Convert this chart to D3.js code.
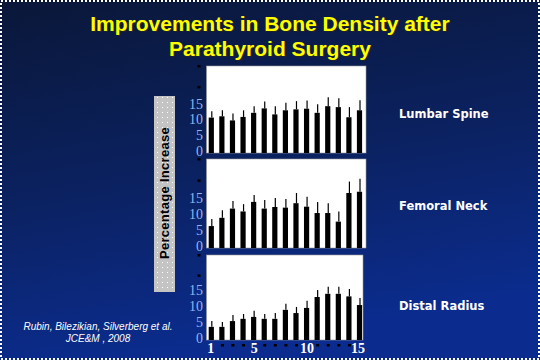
<!DOCTYPE html>
<html><head><meta charset="utf-8">
<script src="https://cdn.jsdelivr.net/npm/d3@7"></script>
<style>html,body{margin:0;padding:0;background:#0b1a48;}svg{display:block;}</style>
</head><body>
<script>
const categories = d3.range(1, 16);
const panelNames = ["Lumbar Spine", "Femoral Neck", "Distal Radius"];
const lumbarSpine = [11.2, 11.6, 10.3, 11.4, 12.7, 14.1, 12.2, 13.5, 13.8, 14.0, 12.7, 14.8, 14.5, 11.3, 13.5];
const lumbarSpineErr = [13.2, 13.5, 12.5, 13.5, 14.8, 16.3, 14.8, 15.9, 16.4, 16.6, 15.4, 17.6, 17.3, 14.5, 16.7];
const femoralNeck = [6.9, 9.5, 12.4, 11.5, 14.5, 12.4, 12.9, 12.7, 14.1, 13.0, 11.0, 11.0, 8.3, 17.3, 17.7];
const femoralNeckErr = [9.1, 11.9, 14.8, 13.8, 16.7, 15.1, 15.7, 15.4, 17.3, 16.1, 14.5, 14.1, 11.5, 20.9, 21.8];
const distalRadius = [4.1, 4.1, 5.9, 6.6, 7.2, 6.6, 6.6, 9.4, 8.4, 10.0, 13.4, 14.4, 14.4, 13.6, 10.9];
const distalRadiusErr = [5.9, 5.6, 7.8, 8.1, 9.1, 8.1, 8.4, 11.3, 10.3, 12.2, 15.6, 16.6, 16.6, 15.9, 13.1];
const yTickLabels = [0, 5, 10, 15];
const xTickLabels = [1, 5, 10, 15];
const titleLines = ["Improvements in Bone Density after", "Parathyroid Surgery"];
const yAxisTitle = "Percentage Increase";
const citation = ["Rubin, Bilezikian, Silverberg et al.", "JCE&M , 2008"];

const W = 540, H = 360;
const svg = d3.select("body").append("svg").attr("width", W).attr("height", H);
const defs = svg.append("defs");
const grad = defs.append("linearGradient").attr("id", "bg").attr("x1", 0).attr("y1", 0).attr("x2", 0.25).attr("y2", 1);
grad.append("stop").attr("offset", "0%").attr("stop-color", "#0a1738");
grad.append("stop").attr("offset", "55%").attr("stop-color", "#0b2262");
grad.append("stop").attr("offset", "100%").attr("stop-color", "#0b2c8e");
const pat = defs.append("pattern").attr("id", "dots").attr("width", 5).attr("height", 5).attr("patternUnits", "userSpaceOnUse");
pat.append("rect").attr("width", 5).attr("height", 5).attr("fill", "#c4c4c4");
pat.append("rect").attr("x", 2).attr("y", 2).attr("width", 1).attr("height", 1).attr("fill", "#ffffff");

svg.append("rect").attr("width", W).attr("height", H).attr("fill", "url(#bg)");
svg.append("rect").attr("x", 1).attr("y", 1).attr("width", W - 2).attr("height", H - 2)
  .attr("fill", "none").attr("stroke", "#ffffff").attr("stroke-width", 2).attr("stroke-dasharray", "2,2");

// Title
const title = svg.append("g").attr("font-family", "Arial, 'Liberation Sans', sans-serif").attr("font-weight", "bold")
  .attr("font-size", 21).attr("text-anchor", "middle");
titleLines.forEach((t, i) => {
  title.append("text").attr("x", 271).attr("y", 32 + i * 25).attr("fill", "#222").text(t);
  title.append("text").attr("x", 270).attr("y", 31 + i * 25).attr("fill", "#ffff00").text(t);
});

// Y axis title box
svg.append("rect").attr("x", 154).attr("y", 96).attr("width", 21).attr("height", 196).attr("fill", "url(#dots)");
svg.append("text").attr("transform", "translate(169,193) rotate(-90)").attr("text-anchor", "middle")
  .attr("font-family", "Arial, 'Liberation Sans', sans-serif").attr("font-weight", "bold").attr("font-size", 13)
  .attr("letter-spacing", 0.3).attr("fill", "#000").text(yAxisTitle);

const panels = [
  {name: panelNames[0], vals: lumbarSpine, err: lumbarSpineErr, top: 66, h: 87, right: 366, max: 27.5, labelY: 118},
  {name: panelNames[1], vals: femoralNeck, err: femoralNeckErr, top: 159, h: 89, right: 366, max: 28, labelY: 210},
  {name: panelNames[2], vals: distalRadius, err: distalRadiusErr, top: 255, h: 85, right: 363, max: 26.5, labelY: 310}
];
const x = d3.scaleLinear().domain([1, 15]).range([211.3, 359.5]);
const bw = 5.2;

panels.forEach((p, pi) => {
  const g = svg.append("g");
  const bottom = p.top + p.h;
  const y = d3.scaleLinear().domain([0, p.max]).range([bottom, p.top]);
  g.append("rect").attr("x", 206.5).attr("y", p.top).attr("width", p.right - 206.5).attr("height", p.h)
    .attr("fill", "#ffffff").attr("stroke", "#9a9a9a").attr("stroke-width", 0.6);
  // error bars
  g.selectAll("line.err").data(p.err).join("line")
    .attr("x1", (d, i) => x(categories[i]) + 0.5).attr("x2", (d, i) => x(categories[i]) + 0.5)
    .attr("y1", (d, i) => y(p.vals[i])).attr("y2", d => y(d))
    .attr("stroke", "#000").attr("stroke-width", 1.2);
  // bars
  g.selectAll("rect.bar").data(p.vals).join("rect")
    .attr("x", (d, i) => x(categories[i]) - bw / 2).attr("y", d => y(d))
    .attr("width", bw).attr("height", d => bottom - y(d)).attr("fill", "#000");
  // y ticks
  const ax = d3.axisLeft(y).tickValues(yTickLabels).tickSize(0).tickPadding(0);
  const ag = g.append("g").attr("transform", "translate(203,-2)").call(ax);
  ag.select(".domain").remove();
  ag.selectAll("text").attr("fill", "#8fb8ef").attr("font-family", "'Liberation Serif', 'Times New Roman', serif")
    .attr("font-size", 14);
  // small tick squares on the left
  [p.max, p.max * 0.76].forEach(v => {
    g.append("rect").attr("x", 197.5).attr("y", y(v) - 1).attr("width", 3).attr("height", 2.5).attr("fill", "#000");
  });
  // panel label
  svg.append("text").attr("x", 399).attr("y", p.labelY).attr("fill", "#ffffff")
    .attr("font-family", "'DejaVu Sans', Verdana, sans-serif").attr("font-weight", "bold").attr("font-size", 11.5)
    .text(p.name);
});

// x axis tick marks and labels
const xg = svg.append("g");
xg.selectAll("rect").data(categories.filter(c => !xTickLabels.includes(c))).join("rect")
  .attr("x", d => x(d) - 1).attr("y", 344).attr("width", 3).attr("height", 2.5).attr("fill", "#000");
const xax = d3.axisBottom(x).tickValues(xTickLabels).tickSize(0).tickPadding(0).tickFormat(d3.format("d"));
const xag = svg.append("g").attr("transform", "translate(0,343)").call(xax);
xag.select(".domain").remove();
xag.selectAll("text").attr("fill", "#ffffff").attr("font-family", "'Liberation Serif', 'Times New Roman', serif")
  .attr("font-weight", "bold").attr("font-size", 14)
  .attr("dx", (d, i) => i === 0 ? -1 : (i === 3 ? -2 : 0));

// citation
const cit = svg.append("g").attr("font-family", "Arial, 'Liberation Sans', sans-serif").attr("font-style", "italic")
  .attr("font-size", 10).attr("fill", "#ffffff").attr("text-anchor", "middle");
citation.forEach((t, i) => cit.append("text").attr("x", 98).attr("y", 330 + i * 11.5).text(t));
</script>
</body></html>
